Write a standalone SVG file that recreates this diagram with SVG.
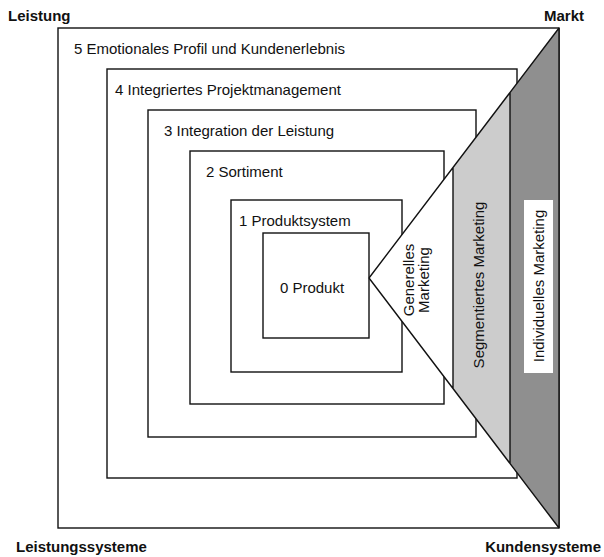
<svg xmlns="http://www.w3.org/2000/svg" width="604" height="557" viewBox="0 0 604 557">
<style>
.box{fill:#fff;stroke:#111;stroke-width:1.4}
.ln{fill:none;stroke:#111;stroke-width:1.4}
.t{font-family:"Liberation Sans",Arial,sans-serif;font-size:15px;fill:#111}
.b{font-family:"Liberation Sans",Arial,sans-serif;font-size:15px;font-weight:bold;fill:#111}
</style>
<rect width="604" height="557" fill="#fff"/>
<g id="corner-labels">
<text class="b" x="8" y="20.5">Leistung</text>
<text class="b" x="584" y="20.5" text-anchor="end">Markt</text>
<text class="b" x="16" y="552">Leistungssysteme</text>
<text class="b" x="601" y="552" text-anchor="end">Kundensysteme</text>
</g>
<g id="box5"><rect class="box" x="58" y="28" width="501" height="500"/><text class="t" x="74" y="53.5">5 Emotionales Profil und Kundenerlebnis</text></g>
<g id="box4"><rect class="box" x="107" y="69" width="410" height="409"/><text class="t" x="115" y="95">4 Integriertes Projektmanagement</text></g>
<g id="box3"><rect class="box" x="148" y="110" width="328" height="327"/><text class="t" x="164" y="136">3 Integration der Leistung</text></g>
<g id="box2"><rect class="box" x="190" y="151" width="254" height="253"/><text class="t" x="206" y="177">2 Sortiment</text></g>
<g id="box1"><rect class="box" x="231" y="200" width="171" height="172"/><text class="t" x="239" y="226">1 Produktsystem</text></g>
<g id="box0"><rect class="box" x="263" y="233" width="106" height="105"/><text class="t" x="312" y="293" text-anchor="middle">0 Produkt</text></g>
<g id="generelles">
<polygon points="369,278 559,28 559,528" fill="#fff"/>
<text class="t" transform="translate(414,280) rotate(-90)" text-anchor="middle">Generelles</text>
<text class="t" transform="translate(428.5,280) rotate(-90)" text-anchor="middle">Marketing</text>
</g>
<g id="segmentiert">
<polygon points="453,167.5 510,92.5 510,463.5 453,388.5" fill="#cccccc"/>
<text class="t" transform="translate(484,285) rotate(-90)" text-anchor="middle">Segmentiertes Marketing</text>
</g>
<g id="individuell">
<polygon points="510,92.5 559,28 559,528 510,463.5" fill="#8f8f8f"/>
<rect x="524" y="200" width="29" height="173" fill="#fff"/>
<text class="t" transform="translate(544,286) rotate(-90)" text-anchor="middle">Individuelles Marketing</text>
</g>
<g id="connectors">
<path class="ln" d="M369,278 L559,28 M369,278 L559,528 M453,167.5 V388.5 M510,92.5 V463.5 M559,28 V528"/>
</g>
</svg>
